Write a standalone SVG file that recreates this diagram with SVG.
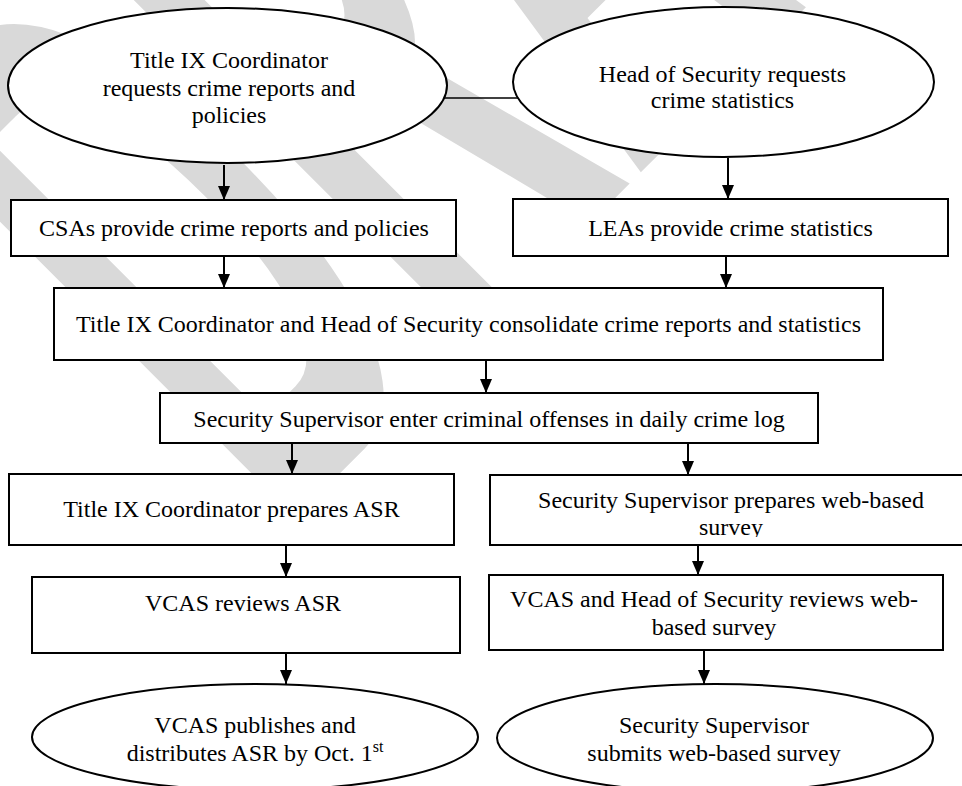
<svg xmlns="http://www.w3.org/2000/svg" width="962" height="786" viewBox="0 0 962 786">
<style>
.n{fill:#fff;stroke:#000;stroke-width:2}
.t{font-family:"Liberation Serif","Times New Roman",serif;font-size:24px;fill:#000;text-anchor:middle}
.c{stroke:#000;stroke-width:2;fill:none}
</style>
<defs>
<marker id="ah" viewBox="0 0 14 12" markerWidth="14" markerHeight="12" refX="14" refY="6" orient="auto" markerUnits="userSpaceOnUse"><path d="M0,0 L14,6 L0,12 z" fill="#000"/></marker>
<clipPath id="clipWeb"><rect x="491" y="476" width="480" height="61"/></clipPath>
</defs>
<rect width="962" height="786" fill="#fff"/>
<g id="watermark">
<text x="0" y="0" font-family="Liberation Sans, Arial, sans-serif" font-weight="bold" font-size="348" fill="#d9d9d9" transform="translate(279.3 533.9) rotate(-45) scale(1 2.4)">DRAFT</text>
</g>
<g id="connectors">
<line class="c" x1="444" y1="98" x2="518" y2="98" style="stroke-width:1.4"/>
<line class="c" x1="224" y1="165" x2="224" y2="200" marker-end="url(#ah)"/>
<line class="c" x1="728" y1="158" x2="728" y2="199" marker-end="url(#ah)"/>
<line class="c" x1="224" y1="256" x2="224" y2="288" marker-end="url(#ah)"/>
<line class="c" x1="726" y1="256" x2="726" y2="288" marker-end="url(#ah)"/>
<line class="c" x1="486" y1="360" x2="486" y2="393" marker-end="url(#ah)"/>
<line class="c" x1="292" y1="443" x2="292" y2="474" marker-end="url(#ah)"/>
<line class="c" x1="688" y1="443" x2="688" y2="475" marker-end="url(#ah)"/>
<line class="c" x1="286" y1="545" x2="286" y2="577" marker-end="url(#ah)"/>
<line class="c" x1="698" y1="545" x2="698" y2="575" marker-end="url(#ah)"/>
<line class="c" x1="286" y1="653" x2="286" y2="684" marker-end="url(#ah)"/>
<line class="c" x1="704" y1="650" x2="704" y2="684" marker-end="url(#ah)"/>
</g>
<g id="n1">
<ellipse class="n" cx="227.5" cy="85.5" rx="219.5" ry="77.5"/>
<text class="t" x="229" y="68">Title IX Coordinator</text>
<text class="t" x="229" y="96">requests crime reports and</text>
<text class="t" x="229" y="123">policies</text>
</g>
<g id="n2">
<ellipse class="n" cx="723.5" cy="82" rx="210.5" ry="75"/>
<text class="t" x="722.5" y="82">Head of Security requests</text>
<text class="t" x="722.5" y="108">crime statistics</text>
</g>
<g id="n3">
<rect class="n" x="11" y="200" width="445" height="56"/>
<text class="t" x="234" y="236">CSAs provide crime reports and policies</text>
</g>
<g id="n4">
<rect class="n" x="513" y="199" width="435" height="57"/>
<text class="t" x="730.5" y="236">LEAs provide crime statistics</text>
</g>
<g id="n5">
<rect class="n" x="54" y="288" width="829" height="72"/>
<text class="t" x="468.5" y="332">Title IX Coordinator and Head of Security consolidate crime reports and statistics</text>
</g>
<g id="n6">
<rect class="n" x="160" y="393" width="658" height="50"/>
<text class="t" x="489" y="427">Security Supervisor enter criminal offenses in daily crime log</text>
</g>
<g id="n7">
<rect class="n" x="9" y="474" width="445" height="71"/>
<text class="t" x="231.5" y="517">Title IX Coordinator prepares ASR</text>
</g>
<g id="n8">
<rect class="n" x="490" y="475" width="482" height="70"/>
<g clip-path="url(#clipWeb)">
<text class="t" x="731" y="508">Security Supervisor prepares web-based</text>
<text class="t" x="731" y="535">survey</text>
</g>
</g>
<g id="n9">
<rect class="n" x="32" y="577" width="428" height="76"/>
<text class="t" x="243" y="611">VCAS reviews ASR</text>
</g>
<g id="n10">
<rect class="n" x="489" y="575" width="454" height="75"/>
<text class="t" x="714" y="607">VCAS and Head of Security reviews web-</text>
<text class="t" x="714" y="635">based survey</text>
</g>
<g id="n11">
<ellipse class="n" cx="255" cy="737" rx="223" ry="53"/>
<text class="t" x="255" y="733">VCAS publishes and</text>
<text class="t" x="255" y="761">distributes ASR by Oct. 1<tspan font-size="16" dy="-9">st</tspan></text>
</g>
<g id="n12">
<ellipse class="n" cx="715" cy="738" rx="218" ry="54"/>
<text class="t" x="714" y="733">Security Supervisor</text>
<text class="t" x="714" y="761">submits web-based survey</text>
</g>
</svg>
